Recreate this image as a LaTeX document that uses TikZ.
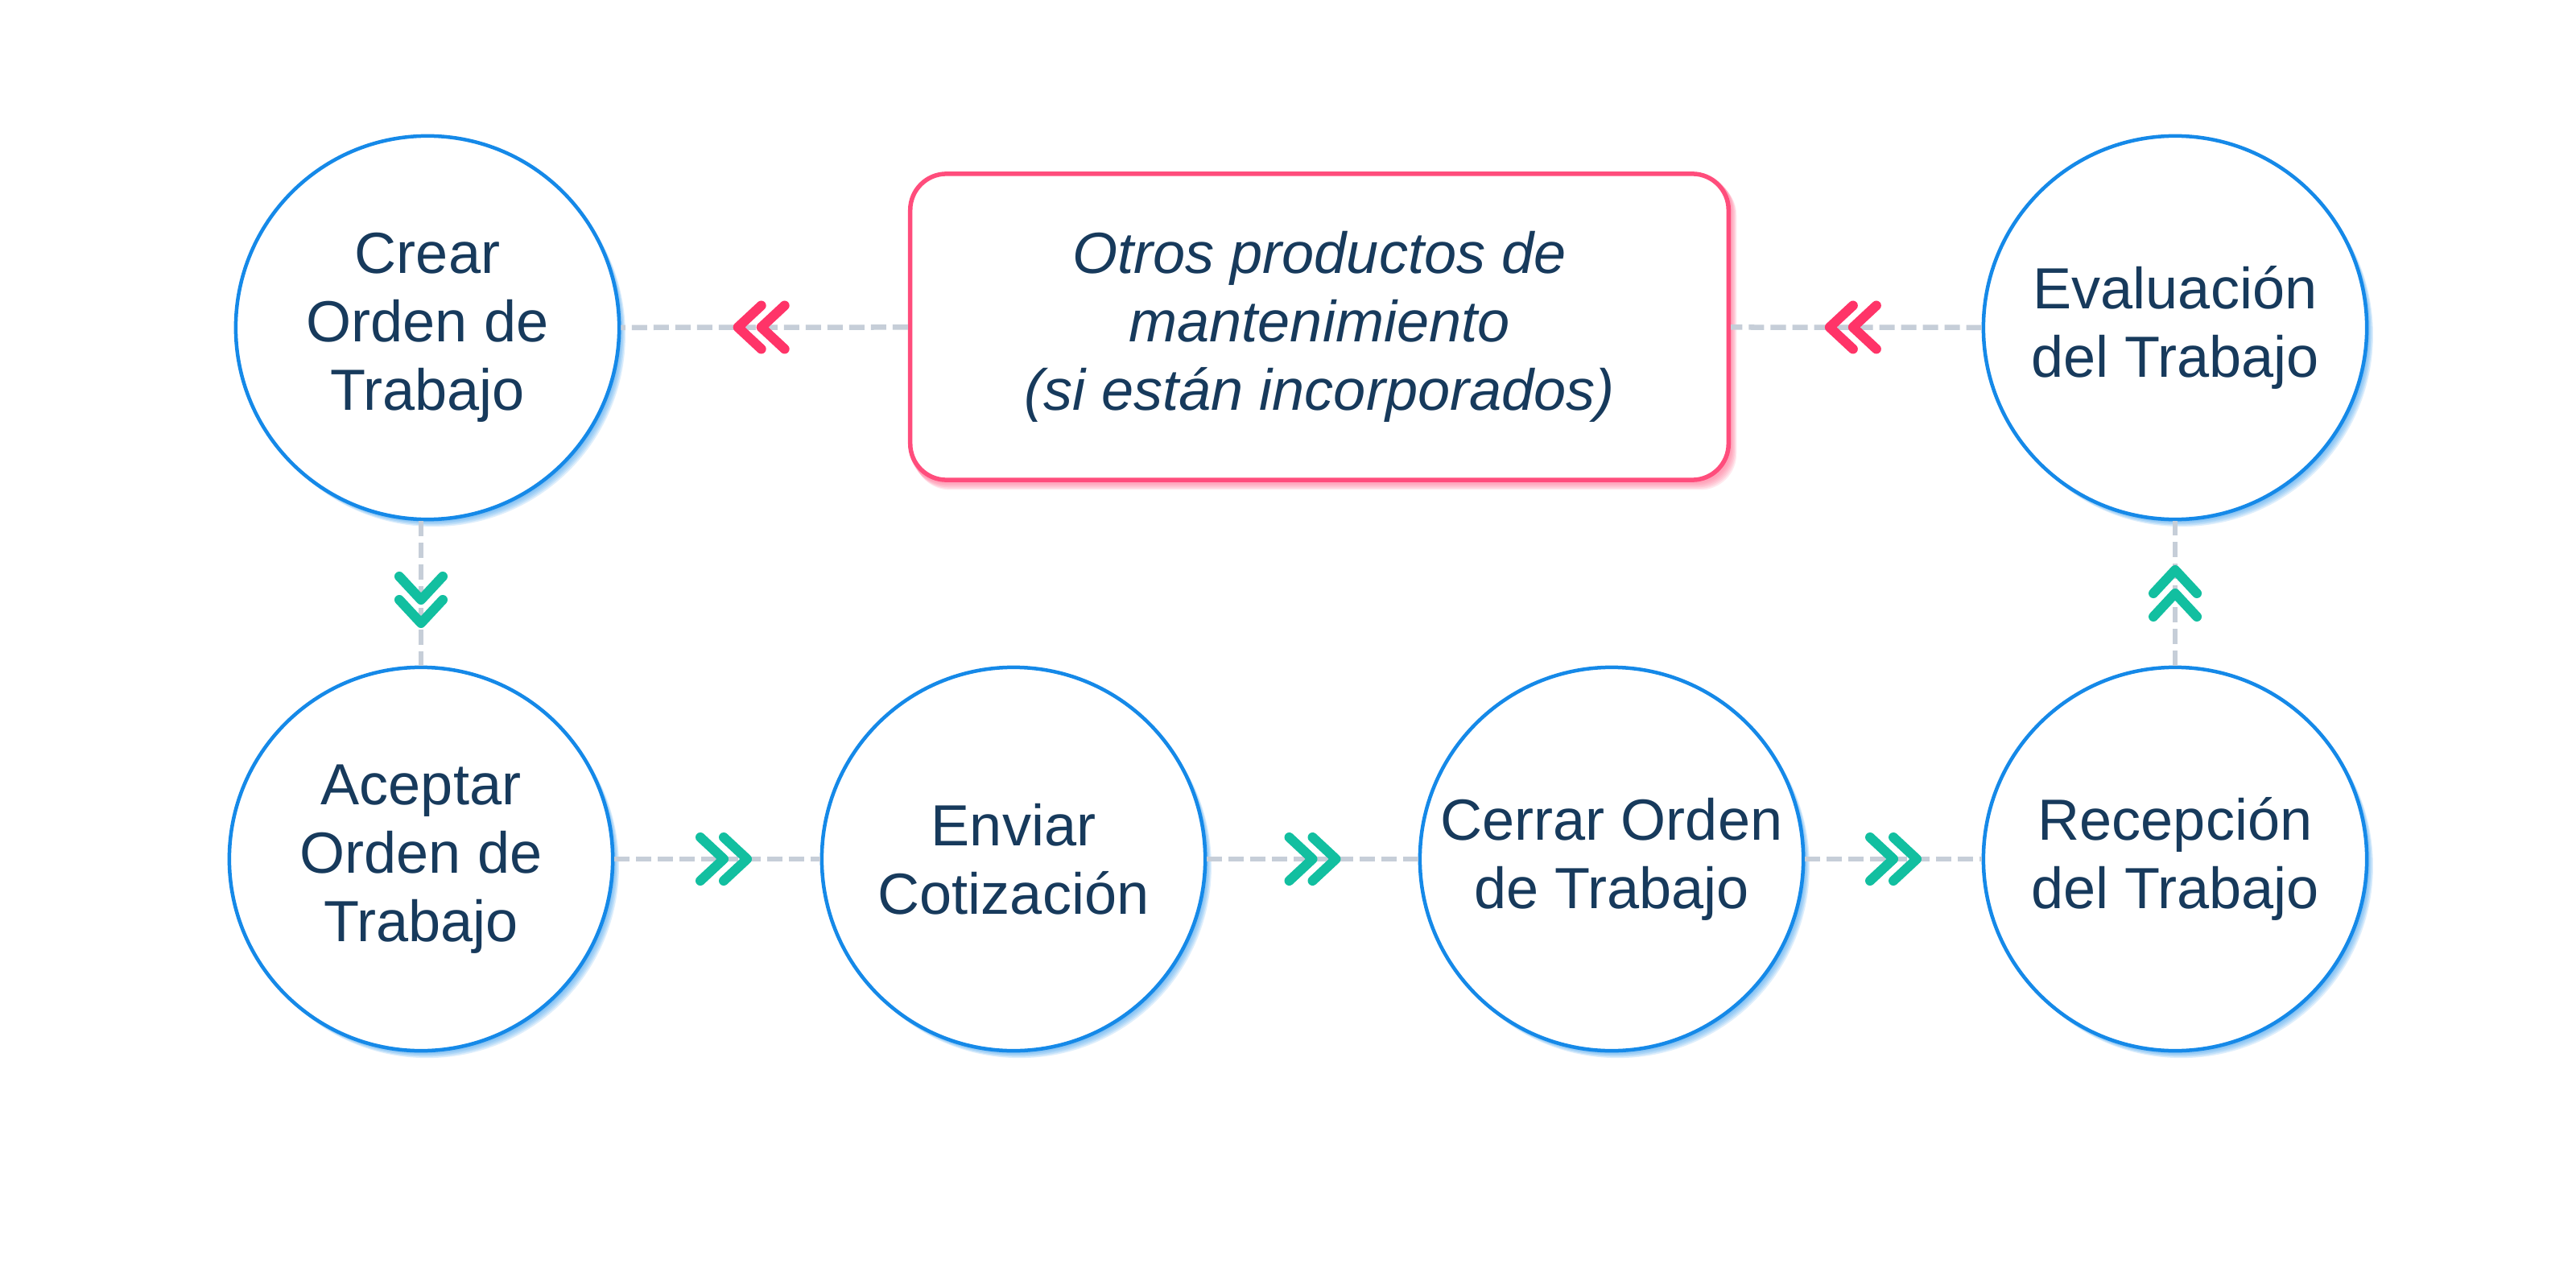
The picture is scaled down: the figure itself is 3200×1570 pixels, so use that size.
\documentclass[tikz,border=0pt]{standalone}
\usepackage{fontspec}
\setmainfont{Liberation Sans}
\usetikzlibrary{calc,backgrounds}
\definecolor{navy}{HTML}{173A5C}
\definecolor{circblue}{HTML}{1589E8}
\definecolor{shadblue}{HTML}{3D9FEE}
\definecolor{pinkline}{HTML}{FF4D7C}
\definecolor{pinkshad}{HTML}{FF6F93}
\definecolor{chevpink}{HTML}{FF3468}
\definecolor{chevgreen}{HTML}{12BFA0}
\definecolor{dashgrey}{HTML}{C6CED8}
\tikzset{
  stepcircle/.style={circle, minimum size=4.76cm, inner sep=0pt, draw=circblue,
    line width=0.045cm, fill=white, text=navy, align=center,
    font=\fontsize{20.5}{24.1}\selectfont},
  notebox/.style={rectangle, rounded corners=0.45cm, minimum width=10.16cm,
    minimum height=3.8cm, draw=pinkline, line width=0.055cm, fill=white,
    text=navy, align=center, font=\fontsize{20.5}{24.1}\selectfont\itshape},
  dashline/.style={draw=dashgrey, line width=0.065cm, dash pattern=on 0.19cm off 0.08cm},
  dchev/.pic={
    \draw[line width=0.12cm, line cap=round, line join=round]
      (-29,-27) -- (0,0) -- (-29,27)
      (0,-27) -- (29,0) -- (0,27);
  }
}
\begin{document}
\begin{tikzpicture}[x=0.01cm, y=-0.01cm]
\useasboundingbox (0,0) rectangle (3200,1570);

\node[stepcircle] (crear)   at (531,407)   {Crear\\Orden de\\Trabajo};
\node[stepcircle] (aceptar) at (523,1067)  {Aceptar\\Orden de\\Trabajo};
\node[stepcircle] (enviar)  at (1259,1067) {Enviar\\Cotización};
\node[stepcircle] (cerrar)  at (2002,1067) {Cerrar Orden\\de Trabajo};
\node[stepcircle] (recep)   at (2702,1067) {Recepción\\del Trabajo};
\node[stepcircle] (evalua)  at (2702,407)  {Evaluación\\del Trabajo};
\node[notebox] (otros) at (1639,406) {Otros productos de\\mantenimiento\\(si están incorporados)};

\begin{scope}[on background layer]
  \fill[white] (0,0) rectangle (3200,1570);
  \foreach \n in {crear,aceptar,enviar,cerrar,recep,evalua}{
    \foreach \s in {1,...,6}{
      \fill[shadblue, opacity=0.17] ($(\n)+(\s*1.3,\s*1.5)$) circle[radius=2.38cm];
    }
  }
  \foreach \s in {1,...,6}{
    \fill[pinkshad, opacity=0.15, rounded corners=0.45cm]
      ($(otros.north west)+(\s*1.2,\s*1.6)$) rectangle ($(otros.south east)+(\s*1.2,\s*1.6)$);
  }
\end{scope}

\draw[dashline] (otros) -- (crear);
\draw[dashline] (crear.south -| aceptar.north) -- (aceptar.north);
\draw[dashline] (aceptar) -- (enviar);
\draw[dashline] (enviar) -- (cerrar);
\draw[dashline] (cerrar) -- (recep);
\draw[dashline] (recep) -- (evalua);
\draw[dashline] (evalua) -- (otros);

\pic[rotate=180, color=chevpink] at ($(crear.east)!0.5!(otros.west)+(-4,0)$) {dchev};
\pic[rotate=180, color=chevpink] at ($(otros.east)!0.5!(evalua.west)+(-4,0)$) {dchev};
\pic[rotate=-90, color=chevgreen] at ($(crear.south -| aceptar.north)!0.5!(aceptar.north)+(0,8)$) {dchev};
\pic[color=chevgreen] at ($(aceptar.east)!0.5!(enviar.west)+(8,0)$) {dchev};
\pic[color=chevgreen] at ($(enviar.east)!0.5!(cerrar.west)$) {dchev};
\pic[color=chevgreen] at ($(cerrar.east)!0.5!(recep.west)$) {dchev};
\pic[rotate=90, color=chevgreen] at ($(recep.north)!0.5!(evalua.south)$) {dchev};
\end{tikzpicture}
\end{document}
